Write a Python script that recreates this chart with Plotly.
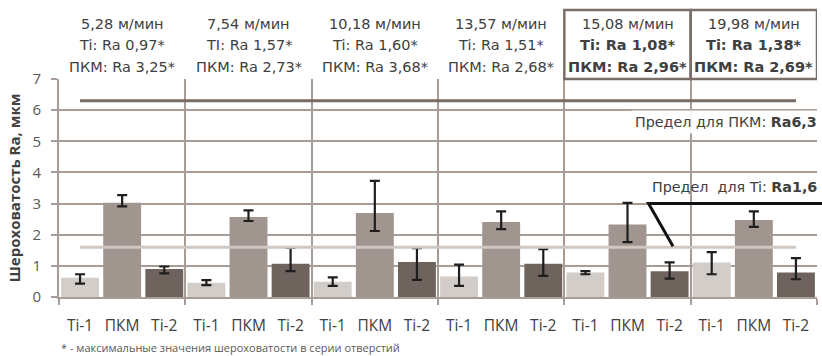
import plotly.graph_objects as go

# ---- data ----
speeds = ["5,28", "7,54", "10,18", "13,57", "15,08", "19,98"]
ti_label = ["Ti", "TI", "Ti", "Ti", "Ti", "Ti"]
ti_max = ["0,97", "1,57", "1,60", "1,51", "1,08", "1,38"]
pkm_max = ["3,25", "2,73", "3,68", "2,68", "2,96", "2,69"]
bold_groups = [False, False, False, False, True, True]

series_names = ["Ti-1", "ПКМ", "Ti-2"]
ti1 = [0.62, 0.46, 0.49, 0.66, 0.79, 1.11]
ti1_hi = [0.73, 0.54, 0.63, 1.04, 0.83, 1.44]
ti1_lo = [0.43, 0.38, 0.36, 0.36, 0.73, 0.73]
pkm = [3.03, 2.57, 2.70, 2.41, 2.33, 2.47]
pkm_hi = [3.27, 2.78, 3.73, 2.75, 3.02, 2.75]
pkm_lo = [2.91, 2.44, 2.12, 2.18, 1.76, 2.25]
ti2 = [0.90, 1.07, 1.12, 1.07, 0.83, 0.79]
ti2_hi = [0.98, 1.58, 1.57, 1.54, 1.11, 1.25]
ti2_lo = [0.76, 0.83, 0.55, 0.68, 0.59, 0.57]

limit_pkm = 6.3
limit_ti = 1.6

# ---- styles ----
FONT = "Open Sans"
HFONT = "DejaVu Sans"
TXT = "#404040"
GRID = "#a89d96"
colors3 = ["#d2cdc9", "#a0958f", "#6f645d"]

n_groups = len(speeds)
n_per = len(series_names)
N = n_groups * n_per

xs, ys, eplus, eminus, cols, ticktext = [], [], [], [], [], []
for g in range(n_groups):
    vals = [ti1[g], pkm[g], ti2[g]]
    his = [ti1_hi[g], pkm_hi[g], ti2_hi[g]]
    los = [ti1_lo[g], pkm_lo[g], ti2_lo[g]]
    for k in range(n_per):
        xs.append(g * n_per + k)
        ys.append(vals[k])
        eplus.append(round(his[k] - vals[k], 3))
        eminus.append(round(vals[k] - los[k], 3))
        cols.append(colors3[k])
        ticktext.append(series_names[k])

fig = go.Figure()
fig.add_trace(go.Bar(
    x=xs, y=ys, width=0.9, marker=dict(color=cols, line=dict(width=0)),
    error_y=dict(type="data", symmetric=False, array=eplus, arrayminus=eminus,
                 color="#1e1e1e", thickness=2.2, width=5),
    showlegend=False, hoverinfo="skip"))

fig.add_trace(go.Scatter(x=xs, y=[limit_ti] * N, mode="lines",
                         line=dict(color="#cfc7c2", width=3), showlegend=False,
                         hoverinfo="skip"))
fig.add_trace(go.Scatter(x=xs, y=[limit_pkm] * N, mode="lines",
                         line=dict(color="#776b64", width=3), showlegend=False,
                         hoverinfo="skip"))

boundaries = [g * n_per - 0.5 for g in range(n_groups + 1)]

fig.update_layout(
    width=822, height=356,
    margin=dict(l=59, r=5, t=79, b=59),
    plot_bgcolor="white", paper_bgcolor="white",
    font=dict(family=FONT, color=TXT),
    bargap=0.1,
    xaxis=dict(range=[-0.5, N - 0.5], tickvals=xs, ticktext=ticktext,
               ticks="", showgrid=False, zeroline=False,
               tickfont=dict(size=15.5, color=TXT), ticklabelstandoff=13,
               showline=True, linecolor=GRID, linewidth=2,
               minor=dict(tickvals=boundaries, showgrid=True, gridcolor=GRID,
                          gridwidth=2, ticks="outside", ticklen=6,
                          tickcolor=GRID, tickwidth=2)),
    yaxis=dict(range=[0, 7], dtick=1, showgrid=True, gridcolor=GRID, gridwidth=2,
               zeroline=False, showline=True, linecolor=GRID, linewidth=2,
               ticks="outside", ticklen=6, tickcolor=GRID, tickwidth=2,
               tickfont=dict(size=15, color="#595959"), ticklabelstandoff=7,
               title=dict(text="<b>Шероховатость Ra, мкм</b>",
                          font=dict(size=15, color=TXT), standoff=8)),
)

# group header labels
for g in range(n_groups):
    cx = g * n_per + (n_per - 1) / 2
    b = bold_groups[g]
    l2 = f"{ti_label[g]}: Ra {ti_max[g]}*"
    l3 = f"ПКМ: Ra {pkm_max[g]}*"
    if b:
        l2 = f"<b>{l2}</b>"
        l3 = f"<b>{l3}</b>"
    for text, shift in [(f"{speeds[g]} м/мин", 55), (l2, 34), (l3, 12)]:
        fig.add_annotation(x=cx, y=1, xref="x", yref="paper", yanchor="middle",
                           yshift=shift, text=text, showarrow=False,
                           font=dict(size=14.5, color=TXT, family=HFONT))
    if b:
        fig.add_shape(type="rect", xref="x", yref="paper",
                      x0=boundaries[g], x1=boundaries[g + 1], y0=1, y1=1.317,
                      line=dict(color="#7a6e68", width=2.5), fillcolor="rgba(0,0,0,0)")

# limit labels
fig.add_annotation(x=13.08, y=5.62, xref="x", yref="y", xanchor="left", yanchor="middle",
                   text="Предел для ПКМ: <b>Ra6,3</b>", showarrow=False,
                   font=dict(size=14.3, color=TXT, family=HFONT),
                   bgcolor="rgba(255,255,255,0.9)", borderpad=3)
fig.add_annotation(x=13.54, y=3.53, xref="x", yref="y", xanchor="left", yanchor="middle",
                   text="Предел  для Ti: <b>Ra1,6</b>", showarrow=False,
                   font=dict(size=14.3, color=TXT, family=HFONT))

# callout line (domain coordinates derived from axis range)
def xd(v):
    return (v + 0.5) / N

def yd(v):
    return v / 7

fig.add_shape(type="path", xref="x domain", yref="y domain",
              path=f"M {xd(14.08)} {yd(limit_ti + 0.03)} L {xd(13.5)} {yd(3.0)} L 1.05 {yd(3.0)}",
              line=dict(color="#111111", width=3))

# footnote
fig.add_annotation(x=0, y=0, xref="paper", yref="paper", xanchor="left",
                   yanchor="middle", yshift=-50,
                   text="* - максимальные значения шероховатости в серии отверстий",
                   showarrow=False, font=dict(size=11, color="#595959"))

fig.write_html("out.html", config={"displayModeBar": False},
               post_script="document.body.style.margin='0px';")
